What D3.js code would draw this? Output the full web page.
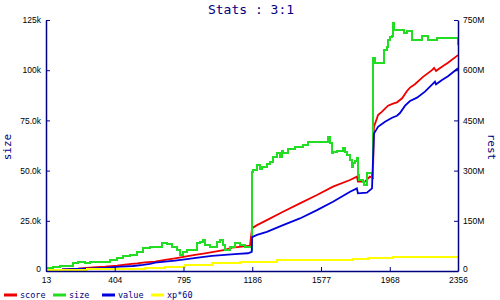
<!DOCTYPE html>
<html>
  <head>
    <meta charset="utf-8">
    <title>Stats : 3:1</title>
    <script src="https://d3js.org/d3.v7.min.js"></script>
    <style>
      body { margin: 0; background: #fff; }
      svg { display: block; font-family: "DejaVu Sans Mono", monospace; }
      .tick text { fill: #000; font-size: 8.5px; }
      .domain, .tick line { stroke: #000080; }
      .line { fill: none; stroke-width: 1.8; }
      .step { shape-rendering: crispEdges; stroke-width: 2; }
    </style>
  </head>
  <body>
    <svg id="chart" width="500" height="300"></svg>
    <script>
      // data: [level, value]
      // size on the left axis (thousands), the rest on the right axis (millions)
      var sizeData = [[13,1.5],[53,2.1],[93,2.6],[167,3.8],[195,4.6],[235,3.8],[263,4.3],[331,4.6],[377,5.5],[417,6.3],[451,7.5],[491,8.0],[531,9.6],[565,11.3],[604,11.8],[644,12.1],[673,13.8],[701,13.2],[730,12.1],[758,10.5],[775,8.0],[792,9.6],[815,10.5],[872,13.8],[889,14.6],[906,15.5],[917,13.0],[946,12.1],[985,14.6],[1002,15.5],[1019,13.0],[1031,10.5],[1059,12.1],[1088,13.8],[1116,12.9],[1145,12.1],[1183,10.5],[1185,49.5],[1190,50.3],[1213,52.8],[1230,50.7],[1241,51.8],[1269,53.3],[1287,54.5],[1304,57.0],[1327,58.7],[1344,57.0],[1355,60.0],[1361,59.0],[1389,60.7],[1429,62.0],[1475,62.8],[1503,64.4],[1617,66.6],[1628,63.6],[1639,58.7],[1645,59.5],[1668,60.0],[1702,61.2],[1713,59.5],[1725,57.8],[1742,55.3],[1753,52.0],[1759,53.8],[1770,54.8],[1781,56.2],[1787,47.8],[1793,45.4],[1816,44.5],[1821,42.9],[1838,48.7],[1867,47.0],[1874,106.0],[1884,103.5],[1935,110.1],[1952,111.8],[1958,115.1],[1969,116.3],[1981,116.8],[1986,123.4],[1992,120.1],[2049,118.5],[2066,119.3],[2094,115.1],[2151,116.8],[2185,115.1],[2237,116.0],[2354,116.0],[2356,112.6]];
      var scoreData = [[104,4.5],[195,7],[280,11],[349,13],[417,16],[474,20],[531,23],[576,26],[633,28],[690,33],[747,38],[803,43],[860,48],[917,53],[974,58],[1031,63],[1071,70],[1128,73],[1173,76],[1185,128],[1213,137],[1269,152],[1361,177],[1457,202],[1554,227],[1645,252],[1742,272],[1781,282],[1787,267],[1827,267],[1855,282],[1872,278],[1878,431],[1895,456],[1901,466],[1924,476],[1958,494],[1986,500],[2009,504],[2038,516],[2066,538],[2083,548],[2111,558],[2157,580],[2208,600],[2220,607],[2231,598],[2265,610],[2299,622],[2356,645]];
      var valueData = [[104,5],[280,8],[360,10],[434,13],[508,15],[565,18],[604,21],[633,25],[690,28],[747,31],[803,35],[877,40],[957,45],[1031,48],[1105,51],[1162,53],[1183,57],[1185,101],[1213,108],[1269,117],[1361,137],[1457,157],[1554,182],[1645,207],[1742,237],[1781,247],[1787,232],[1838,234],[1867,247],[1878,411],[1890,421],[1901,431],[1941,446],[1981,458],[2009,464],[2026,472],[2055,494],[2083,508],[2123,518],[2168,536],[2214,560],[2225,566],[2231,558],[2265,571],[2299,582],[2356,606]];
      var xpData = [[13,3],[246,5],[417,6],[576,8],[690,13],[803,18],[957,23],[1116,28],[1327,33],[1759,36],[1844,38],[1986,41],[2356,41]];
      var xTicks = [13, 404, 795, 1186, 1577, 1968, 2356];
      var leftTicks = [0, 25, 50, 75, 100, 125];
      var rightTicks = [0, 150, 300, 450, 600, 750];
      var leftLabels = ["0", "25.0k", "50.0k", "75.0k", "100k", "125k"];
      var rightLabels = ["0", "150M", "300M", "450M", "600M", "750M"];
      var series = [
        { name: "score", data: scoreData, colour: "#ee0000", axis: "right", curve: d3.curveLinear },
        { name: "size", data: sizeData, colour: "#22dd22", axis: "left", curve: d3.curveStepAfter },
        { name: "value", data: valueData, colour: "#0000dd", axis: "right", curve: d3.curveLinear },
        { name: "xp*60", data: xpData, colour: "#ffff00", axis: "right", curve: d3.curveStepAfter }
      ];

      var margin = { top: 20, right: 42, bottom: 29, left: 46 };
      var svg = d3.select("#chart");
      var width = 500 - margin.left - margin.right;
      var height = 300 - margin.top - margin.bottom;
      var g = svg.append("g")
        .attr("transform", "translate(" + margin.left + "," + margin.top + ")");

      var x = d3.scaleLinear().domain([13, 2356]).range([0, width]);
      var yLeft = d3.scaleLinear().domain([0, 125]).range([height, 0]);
      var yRight = d3.scaleLinear().domain([0, 750]).range([height, 0]);

      // lines
      series.forEach(function(s) {
        var y = s.axis == "left" ? yLeft : yRight;
        var line = d3.line()
          .x(function(d) { return x(d[0]); })
          .y(function(d) { return y(d[1]); })
          .curve(s.curve);
        g.append("path")
          .datum(s.data)
          .attr("class", s.curve === d3.curveStepAfter ? "line step" : "line")
          .attr("stroke", s.colour)
          .attr("d", line);
      });

      // axes, ticks point inward
      g.append("g")
        .attr("transform", "translate(0," + height + ")")
        .call(d3.axisBottom(x).tickValues(xTicks).tickFormat(d3.format("d"))
          .tickSizeInner(-4).tickSizeOuter(0).tickPadding(6));
      g.append("g")
        .call(d3.axisLeft(yLeft).tickValues(leftTicks)
          .tickFormat(function(d, i) { return leftLabels[i]; })
          .tickSizeInner(-4).tickSizeOuter(0).tickPadding(5));
      g.append("g")
        .attr("transform", "translate(" + width + ",0)")
        .call(d3.axisRight(yRight).tickValues(rightTicks)
          .tickFormat(function(d, i) { return rightLabels[i]; })
          .tickSizeInner(-4).tickSizeOuter(0).tickPadding(5));
      g.selectAll(".domain").attr("stroke-width", 1.5);
      // lift the two zero labels a little so they clear the level labels
      g.selectAll(".tick text")
        .filter(function(d) { return d === 0; })
        .attr("dy", "0.1em");

      // title and axis names
      svg.append("text")
        .attr("x", 251).attr("y", 14)
        .attr("text-anchor", "middle")
        .attr("fill", "#000080")
        .style("font-size", "13px")
        .text("Stats : 3:1");
      svg.append("text")
        .attr("transform", "translate(11,147) rotate(-90)")
        .attr("text-anchor", "middle")
        .attr("fill", "#000080")
        .style("font-size", "11px")
        .text("size");
      svg.append("text")
        .attr("transform", "translate(488,147) rotate(90)")
        .attr("text-anchor", "middle")
        .attr("fill", "#000080")
        .style("font-size", "11px")
        .text("rest");

      // legend
      var legendX = [4, 53, 102, 151];
      var legend = svg.selectAll(".legend")
        .data(series)
        .enter().append("g")
          .attr("class", "legend")
          .attr("transform", function(d, i) { return "translate(" + legendX[i] + ",295)"; });
      legend.append("line")
        .attr("x1", 0).attr("x2", 13)
        .attr("stroke", function(d) { return d.colour; })
        .attr("stroke-width", 3);
      legend.append("text")
        .attr("x", 16).attr("y", 3)
        .attr("fill", "#000080")
        .style("font-size", "8.5px")
        .text(function(d) { return d.name; });
    </script>
  </body>
</html>
